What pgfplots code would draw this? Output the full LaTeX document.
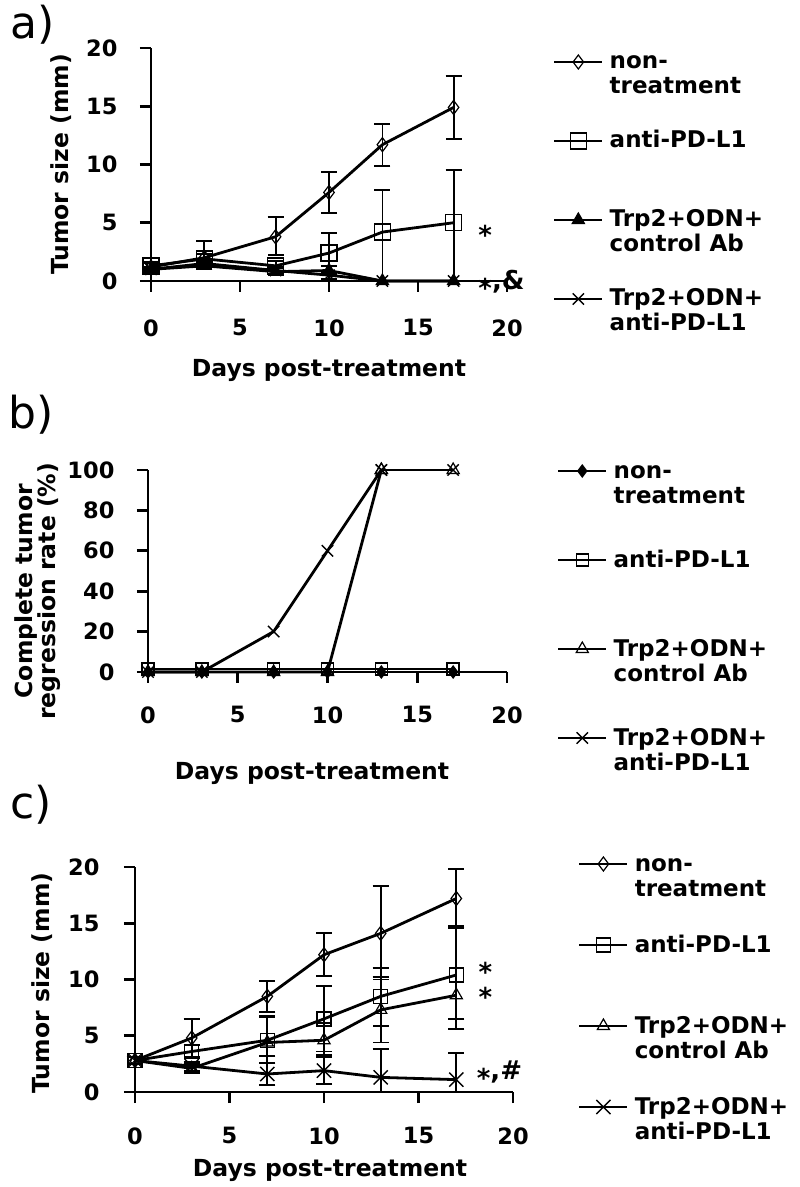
\documentclass[border=0pt]{standalone}
\usepackage{fontspec}
\setmainfont{DejaVu Sans}
\usepackage{pgfplots}
\pgfplotsset{compat=1.18}
\usepackage{pgfplotstable}

% Panel a
\pgfplotstableread{
x y ep em
0 1.2 0.3 0.3
3 2.0 1.4 1.0
7 3.8 1.7 1.6
10 7.6 1.75 1.75
13 11.7 1.8 1.8
17 14.9 2.7 2.7
}\aNT
\pgfplotstableread{
x y ep em
0 1.3 0.3 0.3
3 1.9 0.4 0.4
7 1.3 0.4 0.4
10 2.4 1.7 1.7
13 4.2 3.6 4.2
17 5.0 4.5 5.0
}\aAP
\pgfplotstableread{
x y ep em
0 1.0 0.2 0.2
3 1.3 0.3 0.3
7 0.8 0.3 0.3
10 0.9 0.4 0.4
13 0 0 0
17 0 0 0
}\aTC
\pgfplotstableread{
x y ep em
0 1.0 0.2 0.2
3 1.5 0.3 0.3
7 0.9 0.3 0.3
10 0.5 0.3 0.3
13 0 0 0
17 0 0 0
}\aTA
% Panel b
\pgfplotstableread{
x y
0 0
3 0
7 0
10 0
13 0
17 0
}\bNT
\pgfplotstableread{
x y
0 1.5
3 1.5
7 1.5
10 1.5
13 1.5
17 1.5
}\bAP
\pgfplotstableread{
x y
0 0
3 0
7 0
10 0
13 100
}\bTC
\pgfplotstableread{
x y
0 0
3 0
7 20
10 60
13 100
}\bTA
\pgfplotstableread{
x y
13 100
17 100
}\bTop
% Panel c
\pgfplotstableread{
x y ep em
0 2.8 0.3 0.3
3 4.8 1.7 1.7
7 8.5 1.4 1.4
10 12.2 1.9 1.9
13 14.1 4.2 4.1
17 17.2 2.6 2.5
}\cNT
\pgfplotstableread{
x y ep em
0 2.8 0.3 0.3
3 3.6 0.6 0.6
7 4.6 2.2 2.0
10 6.5 2.9 2.9
13 8.5 2.5 2.6
17 10.4 4.4 3.9
}\cAP
\pgfplotstableread{
x y ep em
0 2.8 0.3 0.3
3 2.1 0.4 0.4
7 4.4 2.3 1.2
10 4.6 1.5 1.3
13 7.3 2.9 2.9
17 8.6 6.0 3.0
}\cTC
\pgfplotstableread{
x y ep em
0 2.8 0.3 0.3
3 2.3 0.4 0.4
7 1.6 1.0 1.0
10 1.9 1.2 1.2
13 1.3 2.5 1.3
17 1.1 2.4 1.1
}\cTA

\newcommand{\lblfont}{\fontsize{23.5}{24}\selectfont\bfseries}
\newcommand{\annfont}{\fontsize{26}{28}\selectfont\bfseries}
\pgfplotsset{
  panel/.style={
    scale only axis, xmin=0, xmax=20, clip=false,
    axis x line*=bottom, axis y line*=left,
    axis line style={line width=2.7pt, -},
    xtick={0,5,10,15,20},
    tick align=outside, major tick length=11pt,
    every tick/.style={line width=2.7pt, black},
    tick label style={font=\fontsize{22.5}{24}\selectfont\bfseries},
    /pgf/number format/assume math mode=true,
    legend style={draw=none, fill=none, anchor=north west, inner sep=0pt, outer sep=0pt,
      font=\fontsize{23}{25}\selectfont\bfseries, column sep=6pt,
      nodes={inner sep=0pt, align=left}, cells={anchor=base west}},
    legend image code/.code={\draw[mark repeat=2, mark phase=2, ##1] plot coordinates {(0pt,32pt) (24pt,32pt) (48pt,32pt)};},
  },
  eb/.style={error bars/.cd, y dir=both, y explicit,
    error bar style={line width=1.8pt, solid, black},
    error mark options={rotate=90, mark size=8pt, line width=1.8pt, black}},
  ser/.style={black, line width=2.8pt},
}

\begin{document}
\begin{tikzpicture}
\path[use as bounding box] (0pt,0pt) rectangle (800pt,1187pt);
\node[font=\fontsize{44}{48}\selectfont] at (33pt,1162pt) {a)};
\node[font=\fontsize{44}{48}\selectfont] at (31pt,772pt) {b)};
\node[font=\fontsize{44}{48}\selectfont] at (31pt,382pt) {c)};

% ---------- panel a ----------
\begin{axis}[panel, at={(151pt,906pt)}, anchor=south west, width=356pt, height=233pt,
  ymin=0, ymax=20, ytick={0,5,10,15,20},
  xticklabel style={yshift=-24pt}, yticklabel style={xshift=-19pt},
  xlabel={Days post-treatment}, ylabel={Tumor size (mm)},
  every axis x label/.style={at={(axis description cs:0.5,-0.382)}, anchor=center, font=\lblfont},
  every axis y label/.style={at={(axis description cs:-0.253,0.5)}, rotate=90, anchor=center, font=\lblfont},
  legend style={at={(axis description cs:1.129,0.985)}, row sep=35pt}]
\addplot[ser, mark=diamond, mark size=7pt, mark options={solid, fill=white, line width=1.2pt}, eb]
  table[x=x, y=y, y error plus=ep, y error minus=em] {\aNT};
\addlegendentry{\strut non-\\\strut treatment}
\addplot[ser, mark=square, mark size=8pt, mark options={solid, fill=white, line width=1.4pt}, eb]
  table[x=x, y=y, y error plus=ep, y error minus=em] {\aAP};
\addlegendentry{\strut anti-PD-L1\\\strut}
\addplot[ser, mark=triangle*, mark size=7pt, mark options={solid, fill=black, line width=1.2pt}, eb]
  table[x=x, y=y, y error plus=ep, y error minus=em] {\aTC};
\addlegendentry{\strut Trp2+ODN+\\\strut control Ab}
\addplot[ser, mark=x, mark size=8pt, mark options={solid, line width=1.4pt}, eb]
  table[x=x, y=y, y error plus=ep, y error minus=em] {\aTA};
\addlegendentry{\strut Trp2+ODN+\\\strut anti-PD-L1}
\node[anchor=base west, font=\annfont] at (axis cs:18.2,3.8) {\raisebox{-8pt}{*}};
\node[anchor=base west, font=\annfont] at (axis cs:18.2,-0.77) {\raisebox{-8pt}{*},\&};
\end{axis}

% ---------- panel b ----------
\begin{axis}[panel, at={(148pt,515pt)}, anchor=south west, width=359pt, height=202pt,
  ymin=0, ymax=100, ytick={0,20,40,60,80,100},
  xticklabel style={yshift=-20pt}, yticklabel style={xshift=-19pt},
  xlabel={Days post-treatment}, ylabel={Complete tumor\\regression rate (\%)},
  every axis x label/.style={at={(axis description cs:0.457,-0.5)}, anchor=center, font=\lblfont},
  every axis y label/.style={at={(axis description cs:-0.308,0.40)}, rotate=90, anchor=center, align=center, font=\fontsize{23.5}{23}\selectfont\bfseries},
  legend style={at={(axis description cs:1.139,1.047)}, row sep=45pt}]
\addplot[ser, mark=diamond*, mark size=6pt, mark options={solid, fill=black, line width=1.2pt}]
  table[x=x, y=y] {\bNT};
\addlegendentry{\strut non-\\\strut treatment}
\addplot[ser, mark=square, mark size=6pt, mark options={solid, fill=white, line width=1.4pt}]
  table[x=x, y=y] {\bAP};
\addlegendentry{\strut anti-PD-L1\\\strut}
\addplot[ser, mark=triangle, mark size=7pt, mark options={solid, fill=white, line width=1.2pt}]
  table[x=x, y=y] {\bTC};
\addlegendentry{\strut Trp2+ODN+\\\strut control Ab}
\addplot[ser, mark=x, mark size=8pt, mark options={solid, line width=1.4pt}]
  table[x=x, y=y] {\bTA};
\addlegendentry{\strut Trp2+ODN+\\\strut anti-PD-L1}
\addplot[black, line width=1.5pt, mark=triangle, mark size=7pt, mark options={solid, fill=white, line width=1.2pt}, forget plot]
  table[x=x, y=y] {\bTop};
\addplot[black, line width=1.5pt, mark=x, mark size=8pt, mark options={solid, line width=1.4pt}, forget plot]
  table[x=x, y=y] {\bTop};
\end{axis}

% ---------- panel c ----------
\begin{axis}[panel, at={(135pt,95pt)}, anchor=south west, width=378pt, height=225pt,
  ymin=0, ymax=20, ytick={0,5,10,15,20},
  xticklabel style={yshift=-21pt}, yticklabel style={xshift=-21pt},
  xlabel={Days post-treatment}, ylabel={Tumor size (mm)},
  every axis x label/.style={at={(axis description cs:0.516,-0.347)}, anchor=center, font=\lblfont},
  every axis y label/.style={at={(axis description cs:-0.246,0.484)}, rotate=90, anchor=center, font=\lblfont},
  legend style={at={(axis description cs:1.172,1.06)}, row sep=37pt}]
\addplot[ser, mark=diamond, mark size=7pt, mark options={solid, fill=white, line width=1.2pt}, eb]
  table[x=x, y=y, y error plus=ep, y error minus=em] {\cNT};
\addlegendentry{\strut non-\\\strut treatment}
\addplot[ser, mark=square, mark size=7pt, mark options={solid, fill=white, line width=1.4pt}, eb]
  table[x=x, y=y, y error plus=ep, y error minus=em] {\cAP};
\addlegendentry{\strut anti-PD-L1\\\strut}
\addplot[ser, mark=triangle, mark size=7pt, mark options={solid, fill=white, line width=1.2pt}, eb]
  table[x=x, y=y, y error plus=ep, y error minus=em] {\cTC};
\addlegendentry{\strut Trp2+ODN+\\\strut control Ab}
\addplot[ser, mark=x, mark size=10pt, mark options={solid, line width=1.4pt}, eb]
  table[x=x, y=y, y error plus=ep, y error minus=em] {\cTA};
\addlegendentry{\strut Trp2+ODN+\\\strut anti-PD-L1}
\node[anchor=base west, font=\annfont] at (axis cs:18.0,10.5) {\raisebox{-8pt}{*}};
\node[anchor=base west, font=\annfont] at (axis cs:18.0,8.3) {\raisebox{-8pt}{*}};
\node[anchor=base west, font=\annfont] at (axis cs:17.9,1.07) {\raisebox{-8pt}{*},\#};
\end{axis}
\end{tikzpicture}
\end{document}
